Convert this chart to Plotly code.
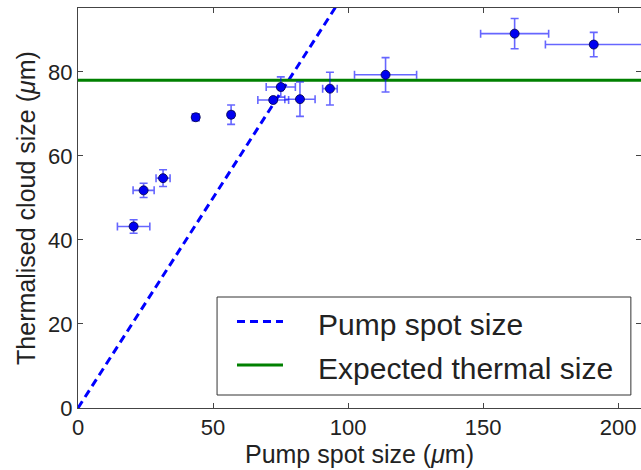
import plotly.graph_objects as go

pump_size = [20.6, 24.3, 31.5, 43.6, 56.7, 72.3, 75.1, 82.2, 93.3, 113.9, 161.7, 191.0]
cloud_size = [43.2, 51.8, 54.7, 69.2, 69.8, 73.3, 76.4, 73.5, 76.0, 79.3, 89.1, 86.5]
pump_err = [6.0, 3.9, 2.6, 1.2, 1.0, 5.7, 5.4, 5.6, 2.7, 11.5, 12.6, 17.9]
cloud_err = [1.6, 1.7, 2.0, 0.8, 2.3, 0.4, 2.4, 4.1, 3.9, 4.1, 3.6, 2.9]

# Reference lines
line_x = [0, 220]
pump_line_y = [0, 220]
thermal_size = 78.0
thermal_y = [thermal_size, thermal_size]

legend_names = ["Pump spot size", "Expected thermal size"]

font_family = "Liberation Sans, Arial, sans-serif"
text_color = "#222222"

fig = go.Figure()

pump_line_style = dict(color="#0000ff", width=3, dash="8px,5px")
thermal_line_style = dict(color="#008000", width=3)

fig.add_trace(go.Scatter(
    x=line_x, y=pump_line_y, mode="lines", line=pump_line_style,
    name=legend_names[0], showlegend=False,
))
fig.add_trace(go.Scatter(
    x=line_x, y=thermal_y, mode="lines", line=thermal_line_style,
    name=legend_names[1], showlegend=False,
))
fig.add_trace(go.Scatter(
    x=pump_size, y=cloud_size, mode="markers",
    marker=dict(color="#0000f0", size=9, line=dict(color="#000040", width=0.8)),
    error_x=dict(type="data", array=pump_err, color="rgba(0,0,255,0.6)", thickness=1.6, width=4),
    error_y=dict(type="data", array=cloud_err, color="rgba(0,0,255,0.6)", thickness=1.6, width=4),
    showlegend=False, cliponaxis=False, name="Measured",
))

axis_common = dict(
    showgrid=False, zeroline=False, showline=True, linecolor="#444444", linewidth=1,
    mirror="ticks", ticks="inside", ticklen=5, tickcolor="#444444", tickwidth=1,
    tickfont=dict(family=font_family, size=22, color=text_color),
    automargin=False,
)

fig.update_xaxes(
    range=[0, 208.5], tickvals=[0, 50, 100, 150, 200],
    title=dict(text="Pump spot size (<i>μ</i>m)", font=dict(family=font_family, size=25, color=text_color), standoff=5),
    **axis_common,
)
fig.update_yaxes(
    range=[0, 95.2], tickvals=[0, 20, 40, 60, 80],
    title=dict(text="Thermalised cloud size (<i>μ</i>m)", font=dict(family=font_family, size=25, color=text_color), standoff=5),
    **axis_common,
)

# Legend box (matplotlib-style, lower right)
box = dict(x0=0.247, x1=0.982, y0=0.0325, y1=0.2775)
sample_x0, sample_x1 = 0.2824, 0.3641
row_y = [0.2163, 0.1075]
text_x = 0.4227

shapes = [dict(type="rect", xref="paper", yref="paper", **box,
               line=dict(color="#333333", width=1), fillcolor="white", layer="above")]
for yy, style in zip(row_y, [pump_line_style, thermal_line_style]):
    shapes.append(dict(type="line", xref="paper", yref="paper",
                       x0=sample_x0, x1=sample_x1, y0=yy, y1=yy, line=style, layer="above"))
annotations = [dict(xref="paper", yref="paper", x=text_x, y=yy - 0.008, text=name,
                    showarrow=False, xanchor="left", yanchor="middle",
                    font=dict(family=font_family, size=30, color=text_color))
               for yy, name in zip(row_y, legend_names)]

fig.update_layout(
    width=641, height=470,
    margin=dict(l=78, r=0, t=8, b=62),
    plot_bgcolor="white", paper_bgcolor="white",
    font=dict(family=font_family),
    showlegend=False,
    shapes=shapes, annotations=annotations,
)

fig.write_html("out.html", config={"displayModeBar": False},
               post_script="document.body.style.margin='0';")
